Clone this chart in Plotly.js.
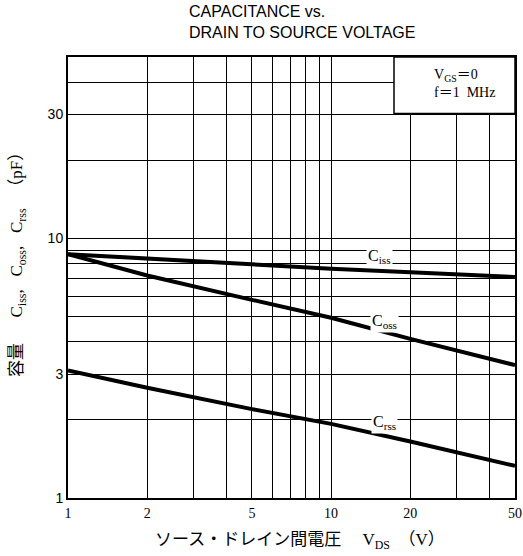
<!DOCTYPE html>
<html><head><meta charset="utf-8">
<script src="https://cdn.plot.ly/plotly-3.0.1.min.js"></script>
<style>html,body{margin:0;padding:0;background:#fff}#chart{width:523px;height:556px}</style>
</head><body><div id="chart"></div><script>
// Data
const vds = [1, 2, 5, 10, 20, 50];
const ciss = [8.7, 8.35, 7.95, 7.65, 7.4, 7.1];
const coss = [8.7, 7.2, 5.8, 4.95, 4.1, 3.25];
const crss = [3.1, 2.66, 2.2, 1.93, 1.65, 1.33];
const xTickVals = [1,2,3,4,5,6,7,8,9,10,20,30,40,50];
const xTickText = ['1','2','','','5','','','','','10','20','','','50'];
const yTickVals = [1,2,3,4,5,6,7,8,9,10,20,30,40,50];
const yTickText = ['1','','3','','','','','','','10','','30','',''];
const curveNames = ['C<sub>iss</sub>','C<sub>oss</sub>','C<sub>rss</sub>'];
const labelX = [15.3, 16, 16];
const labelY = [8.5, 4.8, 1.96];

const series = [ciss, coss, crss];
const traces = series.map((s, i) => ({
  x: vds, y: s, type: 'scatter', mode: 'lines',
  line: {color: '#000', width: 4}, hoverinfo: 'skip', showlegend: false, name: curveNames[i]
}));

const serif = 'Liberation Serif, Times New Roman, Noto Sans CJK JP, serif';
const axisCommon = {
  type: 'log', showgrid: true, gridcolor: '#000', gridwidth: 1,
  showline: true, linecolor: '#000', linewidth: 2, mirror: true,
  ticks: '', zeroline: false, fixedrange: true
};

const annotations = [
  {xref:'paper', yref:'paper', x:(187-68)/447, y:(498-22)/441, xanchor:'left', yanchor:'middle', align:'left',
   text:'CAPACITANCE vs.<br>DRAIN TO SOURCE VOLTAGE', showarrow:false,
   font:{family:'Liberation Sans, Arial, sans-serif', size:16, color:'#000'}},
  {xref:'paper', yref:'paper', x:(300-68)/447, y:(498-541)/441, xanchor:'center', yanchor:'middle',
   text:'ソース・ドレイン間電圧　 V<sub>DS</sub>  （V）', showarrow:false,
   font:{family:serif, size:17, color:'#000'}},
  {xref:'paper', yref:'paper', x:(18-68)/447, y:(498-261)/441, xanchor:'center', yanchor:'middle', textangle:-90,
   text:'容量　  C<sub>iss</sub>,   C<sub>oss</sub>,   C<sub>rss</sub>   （pF）', showarrow:false,
   font:{family:serif, size:17, color:'#000'}},
  {xref:'paper', yref:'paper', x:(432-68)/447, y:(498-83)/441, xanchor:'left', yanchor:'middle', align:'left',
   text:'V<sub>GS</sub>＝0<br>f＝1  MHz', showarrow:false,
   font:{family:serif, size:14, color:'#000'}}
];
curveNames.forEach((n, i) => annotations.push({
  x: Math.log10(labelX[i]), y: Math.log10(labelY[i]), xref:'x', yref:'y', text: n, showarrow:false,
  bgcolor:'#fff', borderpad:1, font:{family:serif, size:16, color:'#000'}
}));

const layout = {
  width: 523, height: 556,
  margin: {l:68, r:8, t:57, b:58, pad:0},
  paper_bgcolor: '#fff', plot_bgcolor: '#fff',
  xaxis: Object.assign({}, axisCommon, {
    range: [0, Math.log10(50)], tickvals: xTickVals, ticktext: xTickText,
    tickfont: {family: serif, size: 14, color: '#000'}, ticklabelstandoff: 1
  }),
  yaxis: Object.assign({}, axisCommon, {
    range: [0, Math.log10(50)], tickvals: yTickVals, ticktext: yTickText,
    tickfont: {family: 'Liberation Sans Narrow, Liberation Sans, Arial, sans-serif', size: 14, color: '#000'}
  }),
  shapes: [
    {type:'rect', xref:'paper', yref:'paper', x0:(394-68)/447, x1:1, y0:(498-113.5)/441, y1:1,
     fillcolor:'#fff', line:{color:'#000', width:1.5}, layer:'above'}
  ],
  annotations: annotations
};

Plotly.newPlot('chart', traces, layout, {displayModeBar:false, staticPlot:true});
</script></body></html>
